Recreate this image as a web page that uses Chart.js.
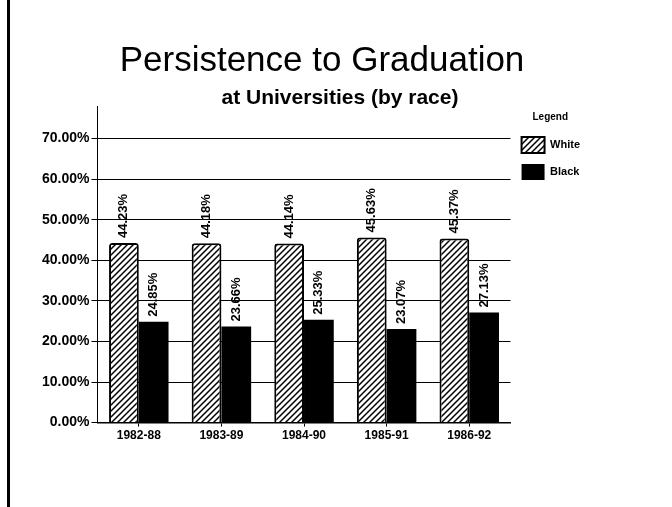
<!DOCTYPE html>
<html>
<head>
<meta charset="utf-8">
<script src="https://cdn.jsdelivr.net/npm/chart.js@4.4.1/dist/chart.umd.min.js"></script>
<style>
  html, body { margin: 0; padding: 0; background: #fff; }
  #wrap { position: relative; width: 672px; height: 507px; }
  #frame { position: absolute; left: 7px; top: 0; width: 3px; height: 507px; background: #000; }
  canvas { position: absolute; left: 0; top: 0; }
</style>
</head>
<body>
<div id="wrap">
  <canvas id="c" width="672" height="507"></canvas>
  <div id="frame"></div>
</div>
<script>
const categories = ["1982-88", "1983-89", "1984-90", "1985-91", "1986-92"];
const whiteValues = [44.23, 44.18, 44.14, 45.63, 45.37];
const blackValues = [24.85, 23.66, 25.33, 23.07, 27.13];
const yTicks = [0, 10, 20, 30, 40, 50, 60, 70];
const seriesNames = ["White", "Black"];
const titleText = "Persistence to Graduation";
const subtitleText = "at Universities (by race)";
const legendTitle = "Legend";

function makeHatch() {
  const s = 6;
  const p = document.createElement('canvas');
  p.width = s; p.height = s;
  const g = p.getContext('2d');
  g.fillStyle = '#fff';
  g.fillRect(0, 0, s, s);
  g.strokeStyle = '#000';
  g.lineWidth = 1.5;
  g.beginPath();
  g.moveTo(-1, s + 1); g.lineTo(s + 1, -1);
  g.moveTo(-1, 1); g.lineTo(1, -1);
  g.moveTo(s - 1, s + 1); g.lineTo(s + 1, s - 1);
  g.stroke();
  return document.getElementById('c').getContext('2d').createPattern(p, 'repeat');
}
const hatch = makeHatch();

const FONT = "'Liberation Sans', Arial, sans-serif";

const valueLabels = {
  id: 'valueLabels',
  afterDatasetsDraw(chart) {
    const ctx = chart.ctx;
    ctx.save();
    ctx.font = "bold 13px " + FONT;
    ctx.fillStyle = '#000';
    ctx.textAlign = 'left';
    ctx.textBaseline = 'middle';
    chart.data.datasets.forEach((ds, di) => {
      const meta = chart.getDatasetMeta(di);
      meta.data.forEach((el, i) => {
        ctx.save();
        ctx.translate(el.x, el.y - 5);
        ctx.rotate(-Math.PI / 2);
        ctx.fillText(ds.data[i].toFixed(2) + '%', 0, 0);
        ctx.restore();
      });
    });
    ctx.restore();
  }
};

const titles = {
  id: 'titles',
  afterDraw(chart) {
    const ctx = chart.ctx;
    ctx.save();
    ctx.fillStyle = '#000';
    ctx.textAlign = 'center';
    ctx.textBaseline = 'alphabetic';
    ctx.font = "35px " + FONT;
    ctx.fillText(titleText, 322, 71);
    ctx.font = "bold 21px " + FONT;
    ctx.fillText(subtitleText, 340, 104);
    ctx.restore();
  }
};

new Chart(document.getElementById('c'), {
  type: 'bar',
  data: {
    labels: categories,
    datasets: [
      { label: seriesNames[0], data: whiteValues, backgroundColor: hatch, borderColor: '#000', borderWidth: 2, borderRadius: { topLeft: 3, topRight: 3 }, borderSkipped: 'bottom' },
      { label: seriesNames[1], data: blackValues, backgroundColor: '#000', borderColor: '#000', borderWidth: 0 }
    ]
  },
  options: {
    responsive: false,
    animation: false,
    layout: { padding: { left: 40, right: 82, top: 106, bottom: 62 } },
    datasets: { bar: { categoryPercentage: 0.72, barPercentage: 1.0 } },
    scales: {
      x: {
        grid: { display: true, drawOnChartArea: false, offset: false, color: '#000', tickLength: 4 },
        border: { color: '#000', width: 1.5 },
        ticks: { color: '#000', font: { family: FONT, weight: 'bold', size: 12 }, padding: 2, maxRotation: 0 }
      },
      y: {
        min: 0, max: 78,
        afterBuildTicks(axis) { axis.ticks = yTicks.map(v => ({ value: v })); },
        grid: { color: '#000', lineWidth: 1, tickLength: 6, drawTicks: true },
        border: { color: '#000', width: 1 },
        ticks: { color: '#000', font: { family: FONT, weight: 'bold', size: 14 }, padding: 2,
                 callback: v => Number(v).toFixed(2) + '%' }
      }
    },
    plugins: {
      title: { display: false },
      subtitle: { display: false },
      legend: {
        display: true, position: 'right', align: 'start', fullSize: false,
        title: { display: true, text: legendTitle, color: '#000', font: { family: FONT, size: 10, weight: 'bold' }, padding: { top: 6, bottom: 2 } },
        labels: { color: '#000', boxWidth: 23, boxHeight: 16, padding: 11, font: { family: FONT, size: 11, weight: 'bold' } }
      },
      tooltip: { enabled: false }
    }
  },
  plugins: [valueLabels, titles]
});
</script>
</body>
</html>
